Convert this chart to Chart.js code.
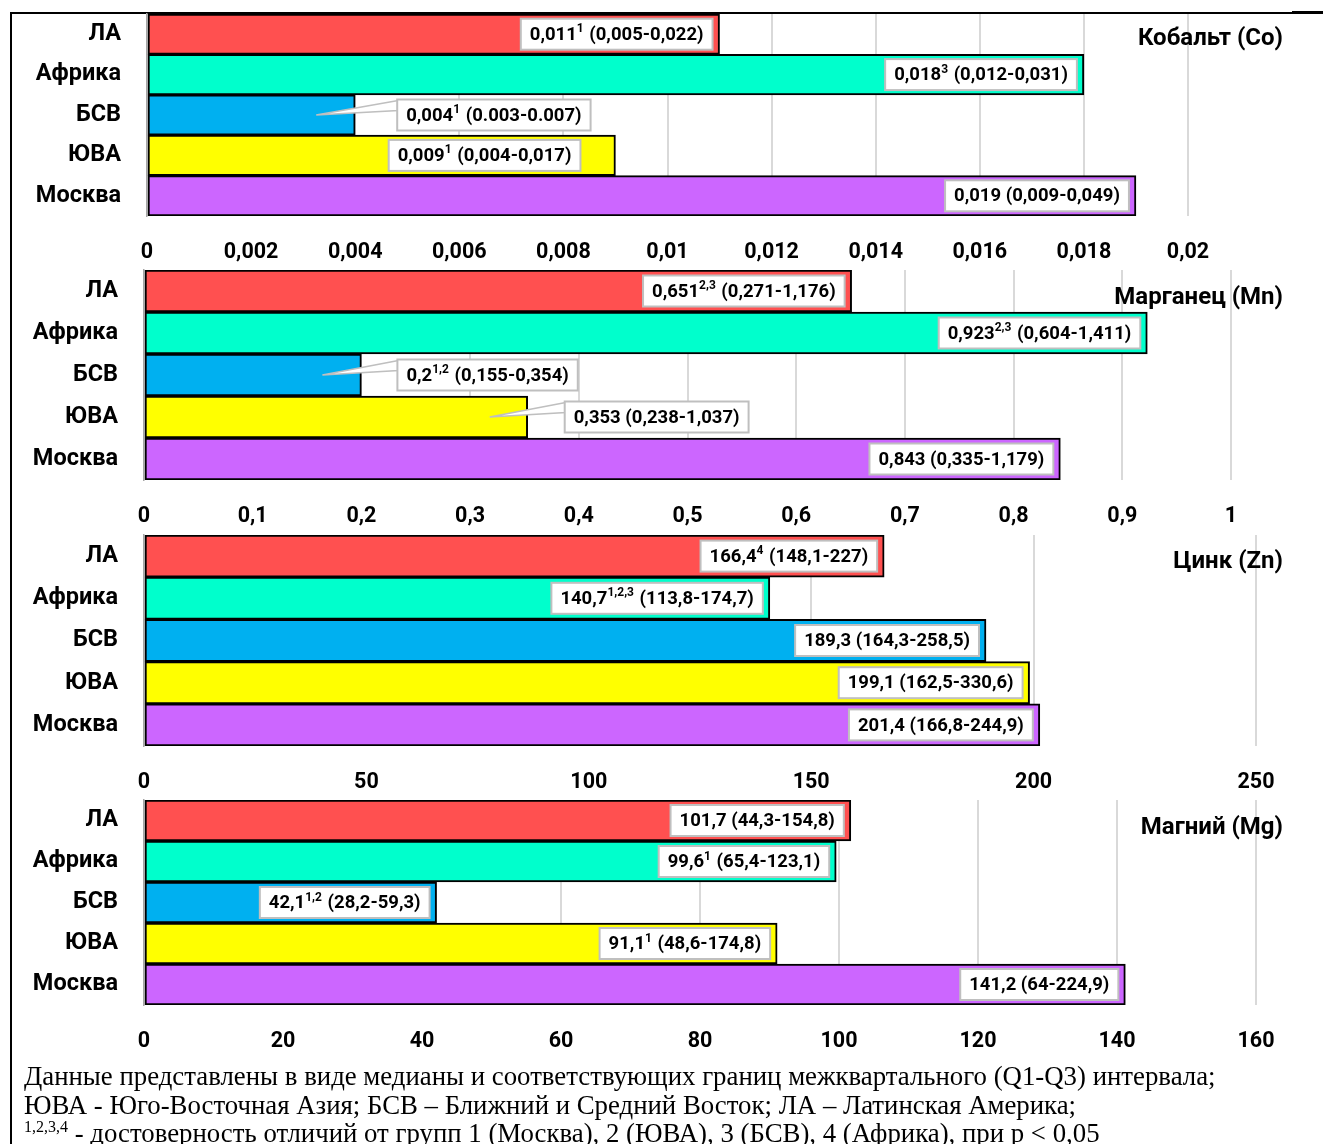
<!DOCTYPE html>
<html lang="ru">
<head>
<meta charset="utf-8">
<script src="https://cdn.jsdelivr.net/npm/chart.js@4.4.0/dist/chart.umd.min.js"></script>
<style>
  html,body{margin:0;padding:0;width:1323px;height:1144px;overflow:hidden;background:#fff;}
  .box{position:absolute;left:0;width:1323px;}
  .ttl{position:absolute;right:40px;font:bold 24px Roboto, sans-serif;color:#000;white-space:nowrap;line-height:26px;}
  #frameL{position:absolute;left:10px;top:12px;width:2px;height:1140px;background:#000;}
  #frameT{position:absolute;left:10px;top:12px;width:1313px;height:2px;background:#000;}
  #frameT2{position:absolute;left:1292px;top:11px;width:31px;height:3px;background:#000;}
  #note{position:absolute;left:24px;top:1062px;font:26.8px "Liberation Serif", serif;line-height:28.5px;white-space:nowrap;color:#000;}
  #note sup{font-size:16px;line-height:0;vertical-align:10px;}
</style>
</head>
<body>
<div id="frameL"></div><div id="frameT"></div><div id="frameT2"></div>
<div class="box" id="b1"><canvas id="c1"></canvas></div>
<div class="box" id="b2"><canvas id="c2"></canvas></div>
<div class="box" id="b3"><canvas id="c3"></canvas></div>
<div class="box" id="b4"><canvas id="c4"></canvas></div>
<div class="ttl" style="top:24px">Кобальт (Co)</div>
<div class="ttl" style="top:283px">Марганец (Mn)</div>
<div class="ttl" style="top:547px">Цинк (Zn)</div>
<div class="ttl" style="top:813px">Магний (Mg)</div>
<div id="note">Данные представлены в виде медианы и соответствующих границ межквартального (Q1-Q3) интервала;<br>ЮВА - Юго-Восточная Азия; БСВ – Ближний и Средний Восток; ЛА – Латинская Америка;<br><sup>1,2,3,4</sup> - достоверность отличий от групп 1 (Москва), 2 (ЮВА), 3 (БСВ), 4 (Африка), при p &lt; 0,05</div>
<script>
// ---------- DATA ----------
const categories = ['ЛА', 'Африка', 'БСВ', 'ЮВА', 'Москва'];
const barColors = ['#FF5050', '#00FFCC', '#00B0F0', '#FFFF00', '#CC66FF'];

const coValues = [0.011, 0.018, 0.004, 0.009, 0.019];
const coMedians = ['0,011', '0,018', '0,004', '0,009', '0,019'];
const coSups = ['1', '3', '1', '1', ''];
const coRanges = ['(0,005-0,022)', '(0,012-0,031)', '(0.003-0.007)', '(0,004-0,017)', '(0,009-0,049)'];
const coTickValues = [0, 0.002, 0.004, 0.006, 0.008, 0.01, 0.012, 0.014, 0.016, 0.018, 0.02];
const coTickLabels = ['0', '0,002', '0,004', '0,006', '0,008', '0,01', '0,012', '0,014', '0,016', '0,018', '0,02'];

const mnValues = [0.651, 0.923, 0.2, 0.353, 0.843];
const mnMedians = ['0,651', '0,923', '0,2', '0,353', '0,843'];
const mnSups = ['2,3', '2,3', '1,2', '', ''];
const mnRanges = ['(0,271-1,176)', '(0,604-1,411)', '(0,155-0,354)', '(0,238-1,037)', '(0,335-1,179)'];
const mnTickValues = [0, 0.1, 0.2, 0.3, 0.4, 0.5, 0.6, 0.7, 0.8, 0.9, 1];
const mnTickLabels = ['0', '0,1', '0,2', '0,3', '0,4', '0,5', '0,6', '0,7', '0,8', '0,9', '1'];

const znValues = [166.4, 140.7, 189.3, 199.1, 201.4];
const znMedians = ['166,4', '140,7', '189,3', '199,1', '201,4'];
const znSups = ['4', '1,2,3', '', '', ''];
const znRanges = ['(148,1-227)', '(113,8-174,7)', '(164,3-258,5)', '(162,5-330,6)', '(166,8-244,9)'];
const znTickValues = [0, 50, 100, 150, 200, 250];
const znTickLabels = ['0', '50', '100', '150', '200', '250'];

const mgValues = [101.7, 99.6, 42.1, 91.1, 141.2];
const mgMedians = ['101,7', '99,6', '42,1', '91,1', '141,2'];
const mgSups = ['', '1', '1,2', '1', ''];
const mgRanges = ['(44,3-154,8)', '(65,4-123,1)', '(28,2-59,3)', '(48,6-174,8)', '(64-224,9)'];
const mgTickValues = [0, 20, 40, 60, 80, 100, 120, 140, 160];
const mgTickLabels = ['0', '20', '40', '60', '80', '100', '120', '140', '160'];

// ---------- LAYOUT / STYLE ----------
const IN = {mode: 'inside', inset: 7};
const panels = [
  {canvas: 'c1', box: 'b1', top: 14, bottom: 216, left: 147, right: 1188,
   values: coValues, medians: coMedians, sups: coSups, ranges: coRanges, tv: coTickValues, tl: coTickLabels,
   place: [IN, IN, {mode: 'callout', gap: 42, tip: 39}, {mode: 'inside', inset: 35}, IN]},
  {canvas: 'c2', box: 'b2', top: 270, bottom: 480, left: 144, right: 1231,
   values: mnValues, medians: mnMedians, sups: mnSups, ranges: mnRanges, tv: mnTickValues, tl: mnTickLabels,
   place: [IN, IN, {mode: 'callout', gap: 36, tip: 39}, {mode: 'callout', gap: 37, tip: 38}, IN]},
  {canvas: 'c3', box: 'b3', top: 535, bottom: 746, left: 144, right: 1256,
   values: znValues, medians: znMedians, sups: znSups, ranges: znRanges, tv: znTickValues, tl: znTickLabels,
   place: [IN, IN, IN, IN, IN]},
  {canvas: 'c4', box: 'b4', top: 800, bottom: 1005, left: 144, right: 1256,
   values: mgValues, medians: mgMedians, sups: mgSups, ranges: mgRanges, tv: mgTickValues, tl: mgTickLabels,
   place: [IN, IN, IN, IN, IN]}
];

const PADTOP = 16, AXISH = 62, W = 1323;
const FONT = 'Roboto, "Open Sans", sans-serif';
const LBL = 18.5, SUP = 12;
Chart.defaults.font.family = FONT;
Chart.defaults.color = '#000';
const clear = 'rgba(0,0,0,0)';

function makeBoxPlugin(p) {
  return {
    id: 'valueBoxes_' + p.canvas,
    afterDatasetsDraw(chart) {
      const ctx = chart.ctx;
      const meta = chart.getDatasetMeta(0);
      ctx.save();
      meta.data.forEach((bar, i) => {
        const main = p.medians[i], sup = p.sups[i], rest = ' ' + p.ranges[i];
        ctx.font = 'bold ' + LBL + 'px ' + FONT;
        const w1 = ctx.measureText(main).width;
        const w3 = ctx.measureText(rest).width;
        ctx.font = 'bold ' + SUP + 'px ' + FONT;
        const w2 = sup ? ctx.measureText(sup).width + 1 : 0;
        const padX = 9, bh = 31;
        const bw = w1 + w2 + w3 + 2 * padX;
        const pl = p.place[i];
        const endX = bar.x, cy = bar.y;
        let left;
        if (pl.mode === 'callout') left = endX + pl.gap; else left = endX - pl.inset - bw;
        const top = cy - bh / 2;
        if (pl.mode === 'callout') {
          const tipX = endX - pl.tip, tipY = cy;
          ctx.beginPath();
          ctx.moveTo(left + 1, top + 1);
          ctx.lineTo(tipX, tipY);
          ctx.lineTo(left + 1, top + 11);
          ctx.closePath();
          ctx.fillStyle = '#fff';
          ctx.fill();
          ctx.strokeStyle = '#bfbfbf';
          ctx.lineWidth = 1.5;
          ctx.stroke();
        }
        ctx.fillStyle = '#fff';
        ctx.fillRect(left, top, bw, bh);
        ctx.strokeStyle = '#bfbfbf';
        ctx.lineWidth = 2;
        ctx.strokeRect(left, top, bw, bh);
        ctx.fillStyle = '#000';
        ctx.textBaseline = 'middle';
        ctx.textAlign = 'left';
        let x = left + padX;
        ctx.font = 'bold ' + LBL + 'px ' + FONT;
        ctx.fillText(main, x, cy + 1);
        x += w1;
        if (sup) {
          ctx.font = 'bold ' + SUP + 'px ' + FONT;
          ctx.fillText(sup, x, cy - 5);
          x += w2;
        }
        ctx.font = 'bold ' + LBL + 'px ' + FONT;
        ctx.fillText(rest, x, cy + 1);
      });
      ctx.restore();
    }
  };
}

panels.forEach(p => {
  const boxEl = document.getElementById(p.box);
  boxEl.style.top = (p.top - PADTOP) + 'px';
  boxEl.style.height = (p.bottom - p.top + PADTOP + AXISH) + 'px';
  new Chart(document.getElementById(p.canvas), {
    type: 'bar',
    data: {
      labels: categories,
      datasets: [{
        data: p.values,
        backgroundColor: barColors,
        borderColor: '#000',
        borderWidth: 2,
        borderSkipped: false,
        barPercentage: 1,
        categoryPercentage: 1
      }]
    },
    options: {
      indexAxis: 'y',
      responsive: true,
      maintainAspectRatio: false,
      animation: false,
      events: [],
      layout: {padding: {left: 0, right: W - p.right, top: PADTOP, bottom: 0}},
      plugins: {legend: {display: false}, tooltip: {enabled: false}},
      scales: {
        x: {
          position: 'bottom',
          min: p.tv[0],
          max: p.tv[p.tv.length - 1],
          afterBuildTicks(scale) { scale.ticks = p.tv.map(v => ({value: v})); },
          afterFit(scale) { scale.height = AXISH; },
          ticks: {
            font: {size: 21.5, weight: 'bold'},
            color: '#000',
            padding: 24,
            maxRotation: 0,
            autoSkip: false,
            callback: (v, idx) => p.tl[idx]
          },
          grid: {color: '#d9d9d9', lineWidth: 2, drawTicks: false},
          border: {display: false}
        },
        y: {
          afterFit(scale) { scale.width = p.left; },
          ticks: {font: {size: 23.5, weight: 'bold'}, color: '#000', padding: 0},
          grid: {display: true, color: clear, drawTicks: true, tickLength: 26, tickColor: clear},
          border: {display: true, color: '#a6a6a6', width: 1.5}
        }
      }
    },
    plugins: [makeBoxPlugin(p)]
  });
});
</script>
</body>
</html>
